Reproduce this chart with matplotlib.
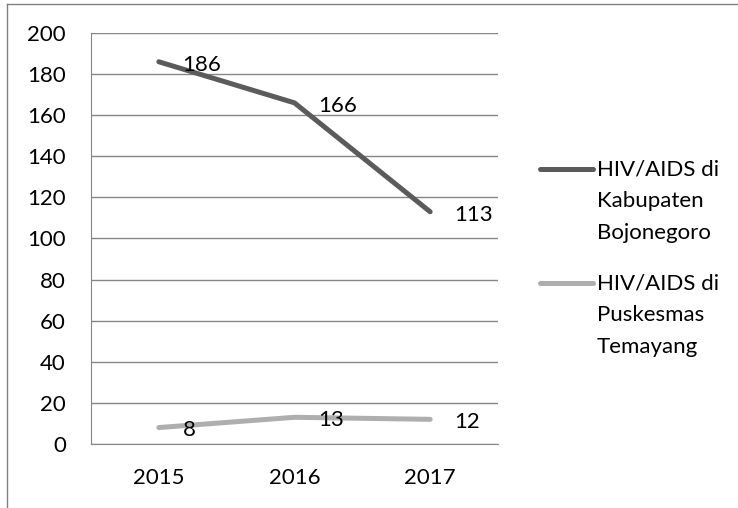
import matplotlib
matplotlib.use('Agg')
import matplotlib.pyplot as plt
from matplotlib.lines import Line2D

plt.rcParams['font.family'] = ['Lato', 'DejaVu Sans']

years = ['2015', '2016', '2017']
kabupaten = [186, 166, 113]
puskesmas = [8, 13, 12]
label_kab = ['HIV/AIDS di', 'Kabupaten', 'Bojonegoro']
label_pus = ['HIV/AIDS di', 'Puskesmas', 'Temayang']

dark = '#5b5b5b'
light = '#aeaeae'
fs = 16

fig = plt.figure(figsize=(7.38, 5.08), dpi=100)
ax = fig.add_axes([91/738, 1-444/508, 407/738, 411/508])

x = list(range(len(years)))
ax.plot(x, kabupaten, color=dark, lw=3.6, solid_capstyle='round')
ax.plot(x, puskesmas, color=light, lw=3.6, solid_capstyle='round')

for i, v in enumerate(kabupaten):
    ax.annotate(str(v), (i, v), xytext=(17, -2), textcoords='offset points',
                ha='left', va='center', fontsize=fs)
for i, v in enumerate(puskesmas):
    ax.annotate(str(v), (i, v), xytext=(17, -2), textcoords='offset points',
                ha='left', va='center', fontsize=fs)

ax.set_xlim(-0.5, 2.5)
ax.set_ylim(0, 200)
ax.set_yticks(range(0, 201, 20))
ax.set_xticks(x)
ax.set_xticklabels(years)
ax.tick_params(length=0, labelsize=fs)
ax.tick_params(axis='x', pad=17)
ax.tick_params(axis='y', pad=18)
ax.grid(axis='y', color='#868686', lw=1)
ax.set_axisbelow(True)
for s in ['top', 'right']:
    ax.spines[s].set_visible(False)
ax.spines['left'].set_color('#868686')
ax.spines['bottom'].set_color('#868686')

# legend, drawn by hand so the line sits beside the first text row
for top, col, lines in [(169, dark, label_kab), (283, light, label_pus)]:
    y0 = 1 - top/508
    fig.add_artist(Line2D([540/738, 593/738], [y0, y0], color=col, lw=3.6,
                          solid_capstyle='round'))
    for k, s in enumerate(lines):
        fig.text(597/738, 1 - (top + 32*k)/508, s, fontsize=fs,
                 ha='left', va='center')

# outer frame
fig.add_artist(Line2D([7/738, 7/738], [0, 1-4/508], color='#7f7f7f', lw=1))
fig.add_artist(Line2D([7/738, 1], [1-4/508, 1-4/508], color='#7f7f7f', lw=1))

fig.savefig('out.png', dpi=100)
